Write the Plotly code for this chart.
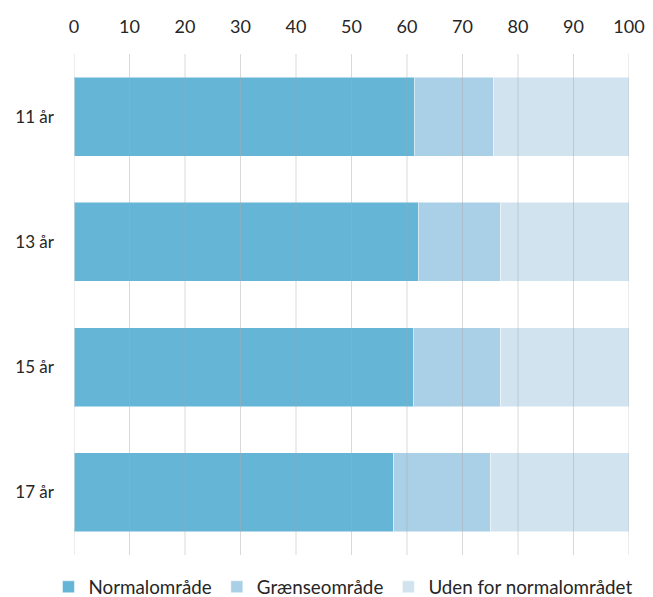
import plotly.graph_objects as go

categories = ["11 år", "13 år", "15 år", "17 år"]
normal = [61.3, 62.0, 61.1, 57.6]
graense = [14.2, 14.8, 15.8, 17.4]
uden = [24.5, 23.2, 23.1, 25.0]
series_names = ["Normalområde", "Grænseområde", "Uden for normalområdet"]
colors = ["#65B5D6", "#A9D0E6", "#D0E3EF"]
x_ticks = list(range(0, 101, 10))

FONT = "Lato"
TXT = "#262626"

fig = go.Figure()
for name, vals, col in zip(series_names, [normal, graense, uden], colors):
    fig.add_trace(go.Bar(
        y=categories, x=vals, name=name, orientation="h",
        marker=dict(color=col, line=dict(color="rgba(255,255,255,0.5)", width=1)),
    ))

# gridlines drawn over the bars, as in the reference
for t in x_ticks:
    fig.add_shape(type="line", xref="x", yref="paper", x0=t, x1=t, y0=0, y1=1,
                  line=dict(color="rgba(170,170,170,0.45)", width=1), layer="above")

fig.update_layout(
    width=653, height=597,
    barmode="stack", bargap=0.37,
    margin=dict(l=66, r=32, t=46, b=50, autoexpand=False),
    plot_bgcolor="white", paper_bgcolor="white",
    font=dict(family=FONT, size=18, color=TXT),
    showlegend=True,
    legend=dict(orientation="h", x=-0.046, xanchor="left", y=-0.064, yanchor="middle",
                font=dict(family=FONT, size=18.8, color=TXT), traceorder="normal",
                itemwidth=30, tracegroupgap=0, bgcolor="rgba(0,0,0,0)"),
    xaxis=dict(side="top", range=[0, 100], tickvals=x_ticks, showgrid=False,
               zeroline=False, showline=False, ticks="", ticklabelstandoff=16,
               tickfont=dict(family=FONT, size=18, color=TXT)),
    yaxis=dict(autorange="reversed", showgrid=False, zeroline=False, showline=False,
               ticks="", ticklabelstandoff=19,
               tickfont=dict(family=FONT, size=17, color=TXT)),
)

fig.write_html("out.html")
